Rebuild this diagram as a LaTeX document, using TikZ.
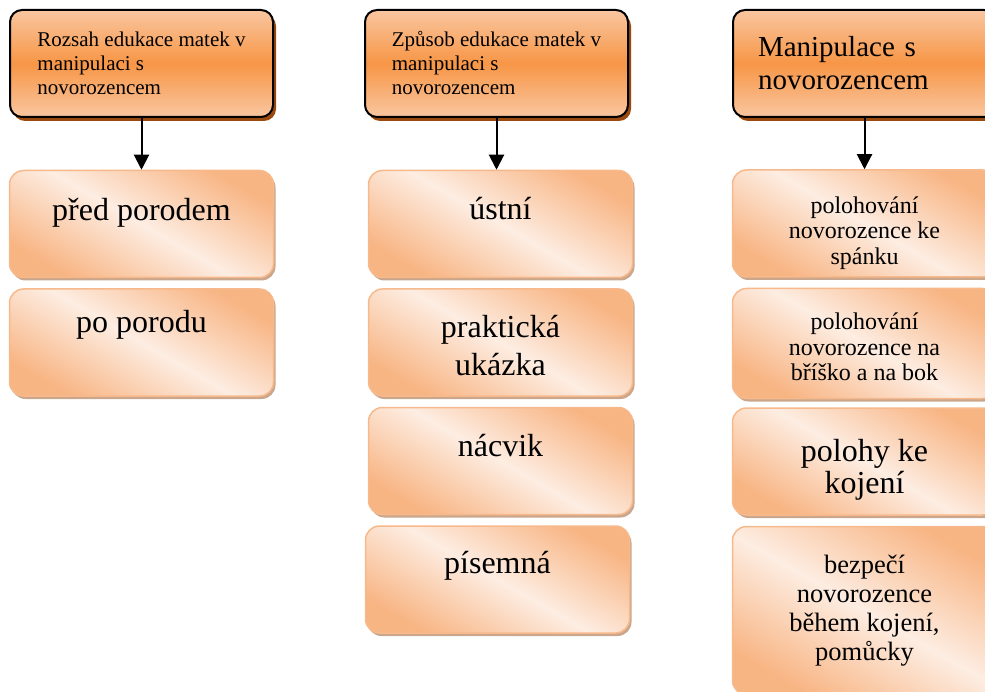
\documentclass[tikz,border=0pt]{standalone}
\usepackage{fontspec}
\setmainfont{Liberation Serif}
\usetikzlibrary{arrows.meta,positioning,shadows}
\definecolor{hdark}{HTML}{F79646}
\definecolor{hlight}{HTML}{F9C6A0}
\definecolor{hshadow}{HTML}{9A4A0E}
\definecolor{corange}{HTML}{F8B584}
\definecolor{clight}{HTML}{FDEDE2}
\definecolor{cline}{HTML}{F7B98B}
\definecolor{cshadow}{HTML}{C9A68C}
\tikzset{
  head/.style={draw=black,line width=2pt,rounded corners=12pt,top color=hlight,bottom color=hlight,middle color=hdark,minimum width=263pt,minimum height=107pt,align=left,drop shadow={fill=hshadow,opacity=1,shadow xshift=3pt,shadow yshift=-4pt}},
  sub/.style={draw=cline,line width=1.5pt,rounded corners=14pt,top color=corange,bottom color=corange,middle color=clight,shading angle=-30,minimum width=264pt,minimum height=107pt,drop shadow={fill=cshadow,opacity=1,shadow xshift=2pt,shadow yshift=-3pt}},
  subtxt/.style={anchor=north,inner sep=0pt,align=center,font=\fontsize{32}{38}\selectfont},
  smalltxt/.style={subtxt,font=\fontsize{24}{25.5}\selectfont},
  arrow/.style={-{Triangle[length=15pt,width=15pt]},line width=2pt,draw=black},
}
\begin{document}
\begin{tikzpicture}[x=1pt,y=-1pt]
  \useasboundingbox (0,0) rectangle (985,692);
  \clip (0,0) rectangle (985,692);
  % headers
  \node[head,font=\fontsize{21}{24}\selectfont] (rozsah) at (141.5,63.5) {Rozsah edukace matek v\\manipulaci s\\novorozencem};
  \node[head,font=\fontsize{21}{24}\selectfont] (zpusob) at (496.5,63.5) {Způsob edukace matek v\\manipulaci s\\novorozencem};
  \node[head,font=\fontsize{29}{33}\selectfont,inner xsep=25pt,text width=213pt] (manip) at (864.5,63.5) {Manipulace s\\novorozencem};
  % first column
  \node[sub] (pred) at (141.5,224) {};
  \node[sub,below=10pt of pred] (po) {};
  \node[subtxt] (pred-t) at ([yshift=-28pt]pred.north) {před porodem};
  \node[subtxt] (po-t) at ([yshift=-22pt]po.north) {po porodu};
  % second column
  \node[sub] (ustni) at (500.5,224) {};
  \node[sub,below=10pt of ustni] (prakticka) {};
  \node[sub,below=10pt of prakticka] (nacvik) {};
  \node[sub,below=10pt of nacvik,xshift=-3pt] (pisemna) {};
  \node[subtxt] (ustni-t) at ([yshift=-27pt]ustni.north) {ústní};
  \node[subtxt] (prakticka-t) at ([yshift=-27pt]prakticka.north) {praktická\\ukázka};
  \node[subtxt] (nacvik-t) at ([yshift=-27pt]nacvik.north) {nácvik};
  \node[subtxt] (pisemna-t) at ([yshift=-26pt]pisemna.north) {písemná};
  % third column
  \node[sub] (spanek) at (864.5,223.5) {};
  \node[sub,below=10pt of spanek,minimum height=110pt] (bricho) {};
  \node[sub,below=8pt of bricho] (kojeni) {};
  \node[sub,below=10pt of kojeni,minimum height=168pt] (bezpeci) {};
  \node[smalltxt] (spanek-t) at ([yshift=-27pt]spanek.north) {polohování\\novorozence ke\\spánku};
  \node[smalltxt] (bricho-t) at ([yshift=-25pt]bricho.north) {polohování\\novorozence na\\bříško a na bok};
  \node[subtxt,font=\fontsize{32}{32}\selectfont] (kojeni-t) at ([yshift=-32pt]kojeni.north) {polohy ke\\kojení};
  \node[subtxt,font=\fontsize{26.5}{29}\selectfont] (bezpeci-t) at ([yshift=-29pt]bezpeci.north) {bezpečí\\novorozence\\během kojení,\\pomůcky};
  % arrows
  \draw[arrow] (rozsah.south) -- (pred.north);
  \draw[arrow] (zpusob.south) -- (zpusob.south |- ustni.north);
  \draw[arrow] (manip.south) -- (spanek.north);
\end{tikzpicture}
\end{document}
